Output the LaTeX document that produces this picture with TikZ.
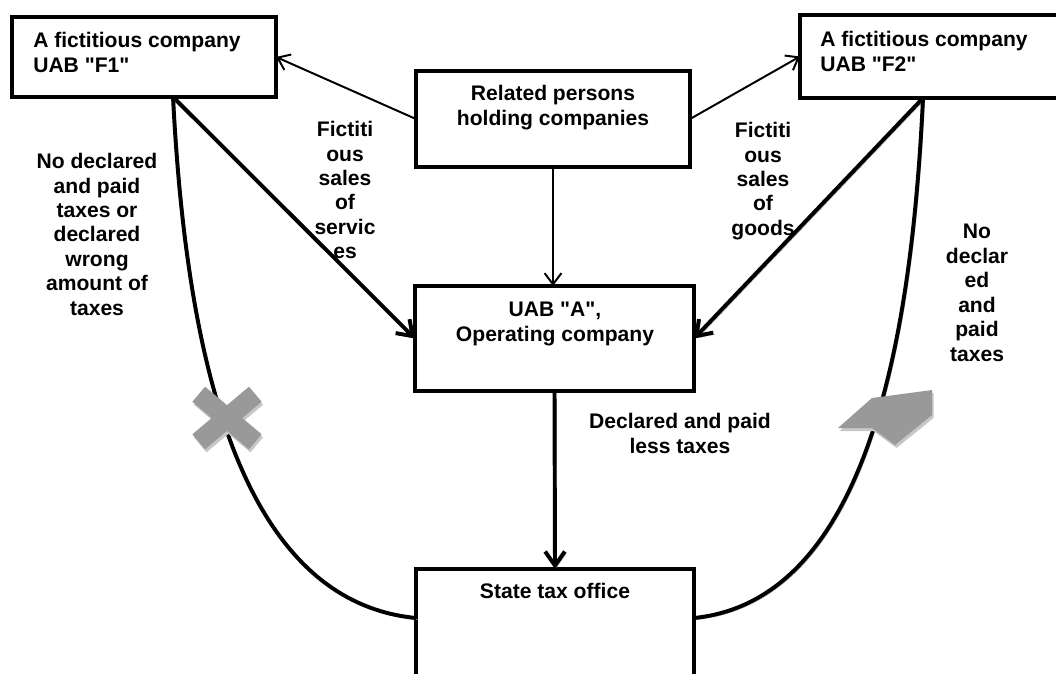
\documentclass[tikz,border=0pt]{standalone}
\usepackage{fontspec}
\setmainfont{Liberation Sans}
\usetikzlibrary{arrows.meta,calc}
\begin{document}
\begin{tikzpicture}[x=0.025cm, y=-0.025cm,
  box/.style={draw, line width=2.8pt, inner sep=0pt, outer sep=0pt},
  txt/.style={font=\fontsize{15}{17.4}\selectfont\bfseries, inner sep=0pt, align=center, anchor=north},
  shad/.style={preaction={draw=black!35, transform canvas={xshift=1.2pt,yshift=-1.2pt}}},
  thinarrow/.style={line width=1.4pt, -{Straight Barb[length=8pt,width=12pt]}},
  thickarrow/.style={line width=2.8pt, -{Straight Barb[length=10pt,width=14pt]}, shad},
  curvedline/.style={line width=2.8pt, shad},
  grayshape/.style={fill=black!40, draw=none},
  grayshadow/.style={fill=black!22, draw=none}
]
\useasboundingbox (0,0) rectangle (1056,673);

% boxes
\node[box, minimum width=6.6cm, minimum height=2cm] (f1) at (144,57) {};
\node[box, minimum width=6.75cm, minimum height=2.075cm] (f2) at (935,56.5) {};
\node[box, minimum width=6.85cm, minimum height=2.4cm] (rel) at (553,119) {};
\node[box, minimum width=6.975cm, minimum height=2.625cm] (uaba) at (554.5,338.5) {};
\node[box, minimum width=6.95cm, minimum height=3.275cm] (state) at (555,634.5) {};

% box texts
\node[txt, anchor=north west, align=left] (f1t) at (33,32) {A fictitious company\\UAB \textquotedbl F1\textquotedbl};
\node[txt, anchor=north west, align=left] (f2t) at (820,31) {A fictitious company\\UAB \textquotedbl F2\textquotedbl};
\node[txt] (relt) at (553,85) {Related persons\\holding companies};
\node[txt] (uabat) at (555,302) {UAB \textquotedbl A\textquotedbl,\\Operating company};
\node[txt] (statet) at (555,583) {State tax office};

% labels
\node[txt] (lserv) at (345,121) {Fictiti\\ous\\sales\\of\\servic\\es};
\node[txt] (lgoods) at (763,122) {Fictiti\\ous\\sales\\of\\goods};
\node[txt] (lnodecl) at (97,153) {No declared\\and paid\\taxes or\\declared\\wrong\\amount of\\taxes};
\node[txt] (rnodecl) at (977,224) {No\\declar\\ed\\and\\paid\\taxes};
\node[txt] (lless) at (680,413) {Declared and paid\\less taxes};

% coordinates
\coordinate (f1out) at (173,97);
\coordinate (f2out) at (923,98);
\coordinate (stl) at (416,618);
\coordinate (str) at (694,618);

% connectors
\draw[thinarrow] (rel.west) -- (f1.east);
\draw[thinarrow] (rel.east) -- (f2.west);
\draw[thinarrow] (rel.south) -- (rel.south |- uaba.north);
\draw[thickarrow] (f1out) -- (uaba.west);
\draw[thickarrow] (f2out) -- (uaba.east);
\draw[thickarrow] (uaba.south) -- (state.north);
\draw[curvedline] (f1out) .. controls (185,330) and (230,600) .. (stl);
\draw[curvedline] (f2out) .. controls (912,330) and (870,600) .. (str);

% gray marks (shadows first)
\begin{scope}[shift={(1.5,3)}]
\draw[line width=14pt, black!22] (198.7,394.2) -- (255.3,441.8);
\draw[line width=14pt, black!22] (255.3,394.2) -- (198.7,441.8);
\fill[grayshadow] (838,428) -- (872,398) -- (932,390) -- (932,415) -- (895,445) -- (872,428) -- cycle;
\end{scope}
\draw[line width=14pt, black!40] (198.7,394.2) -- (255.3,441.8);
\draw[line width=14pt, black!40] (255.3,394.2) -- (198.7,441.8);
\fill[grayshape] (838,428) -- (872,398) -- (932,390) -- (932,415) -- (895,445) -- (872,428) -- cycle;
\end{tikzpicture}
\end{document}
